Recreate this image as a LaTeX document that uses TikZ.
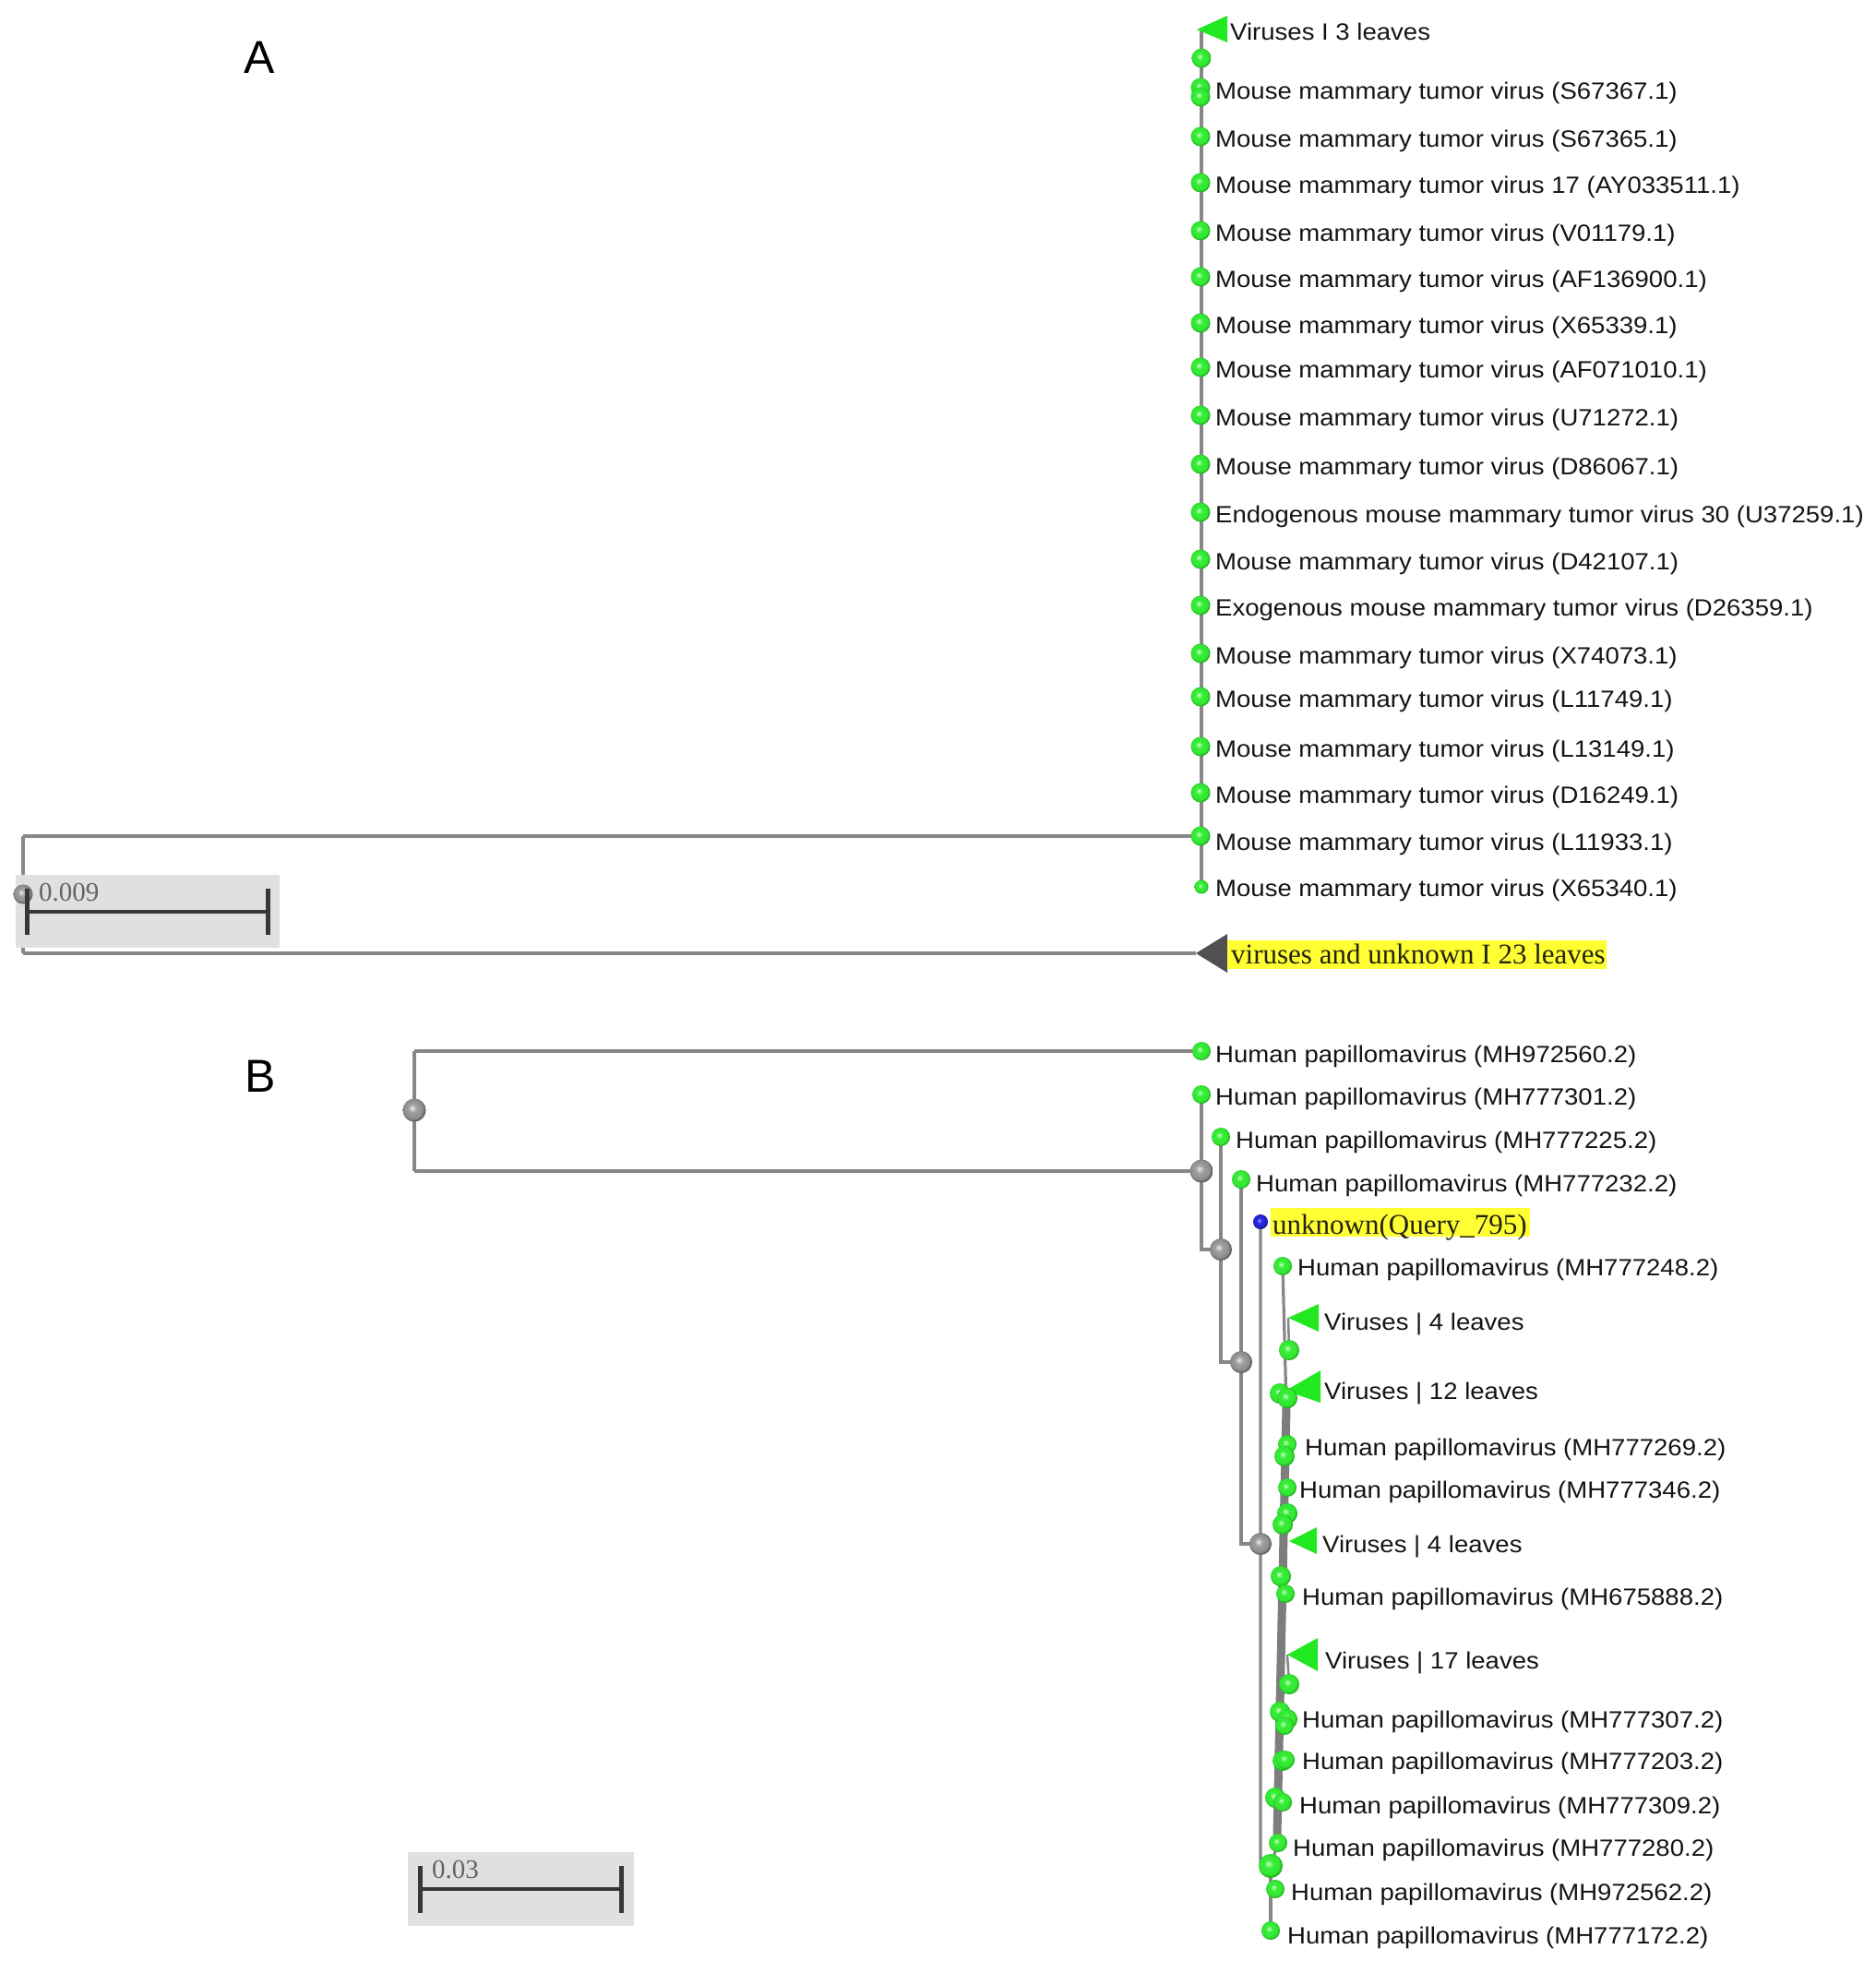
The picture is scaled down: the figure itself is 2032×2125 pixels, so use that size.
\documentclass[tikz,border=0pt]{standalone}
\usepackage{fontspec}
\newfontfamily\lblfont{Liberation Sans}[FakeStretch=1.08]
\newfontfamily\serfont{Liberation Serif}
\newfontfamily\bigfont{Liberation Sans}
\definecolor{txt}{RGB}{20,20,20}
\definecolor{sertxt}{RGB}{35,35,15}
\definecolor{lgray}{RGB}{135,135,135}
\definecolor{barc}{RGB}{125,125,125}
\definecolor{boxc}{RGB}{224,224,224}
\definecolor{scalec}{RGB}{55,55,55}
\definecolor{scaletxt}{RGB}{100,100,100}
\definecolor{hlyellow}{RGB}{255,255,51}
\definecolor{trig}{RGB}{34,232,34}
\definecolor{trid}{RGB}{80,80,80}
\definecolor{gtop}{RGB}{200,255,200}
\definecolor{gmid}{RGB}{55,238,55}
\definecolor{gedge}{RGB}{30,180,30}
\definecolor{ytop}{RGB}{235,235,235}
\definecolor{ymid}{RGB}{160,160,160}
\definecolor{yedge}{RGB}{95,95,95}
\definecolor{btop}{RGB}{160,160,255}
\definecolor{bmid}{RGB}{40,40,230}
\definecolor{bedge}{RGB}{20,20,130}
\pgfdeclareradialshading{gball}{\pgfpoint{-5bp}{5bp}}{color(0bp)=(gtop); color(9bp)=(gmid); color(21bp)=(gmid!85!gedge); color(25bp)=(gedge); color(50bp)=(gedge)}
\pgfdeclareradialshading{yball}{\pgfpoint{-5bp}{5bp}}{color(0bp)=(ytop); color(9bp)=(ymid); color(21bp)=(ymid!70!yedge); color(25bp)=(yedge); color(50bp)=(yedge)}
\pgfdeclareradialshading{bball}{\pgfpoint{-5bp}{5bp}}{color(0bp)=(btop); color(9bp)=(bmid); color(21bp)=(bmid!70!bedge); color(25bp)=(bedge); color(50bp)=(bedge)}
\tikzset{
  br/.style={draw=lgray, line width=3.2pt},
  thickbar/.style={draw=barc, line width=9pt},
  gsph/.style={circle, inner sep=0pt, minimum size=#1, shading=gball},
  gsph/.default=20pt,
  ysph/.style={circle, inner sep=0pt, minimum size=#1, shading=yball},
  ysph/.default=24pt,
  bsph/.style={circle, inner sep=0pt, minimum size=16pt, shading=bball},
  lbl/.style={anchor=base west, inner sep=0pt, text=txt, font=\lblfont\fontsize{25.5}{30}\selectfont},
  serlbl/.style={anchor=base west, inner sep=0pt, text=sertxt, font=\serfont\fontsize{31}{36}\selectfont},
  scalelbl/.style={anchor=base west, inner sep=0pt, text=scaletxt, font=\serfont\fontsize{29}{34}\selectfont},
  panel/.style={anchor=base, inner sep=0pt, text=black, font=\bigfont\fontsize{50}{60}\selectfont},
  tick/.style={draw=scalec, line width=5pt},
  sbar/.style={draw=scalec, line width=4pt},
}
\begin{document}
\begin{tikzpicture}[x=1pt,y=-1pt]
\useasboundingbox (0,0) rectangle (2032,2125);
\fill[white] (0,0) rectangle (2032,2125);

% ---------------- Panel A ----------------
\node[panel] (labA) at (281,80) {A};
\coordinate (rA) at (25,969);
\coordinate (aT) at (25,906);
\coordinate (aB) at (25,1033);
\coordinate (aJ) at (1302,906);
\coordinate (aTop) at (1302,32);
\coordinate (aEnd) at (1302,961);
\coordinate (aTriL) at (1296,1033);
\draw[br] (aT) -- (aB);
\draw[br] (aT) -- (aJ);
\draw[br] (aB) -- (aTriL);
\draw[br] (aTop) -- (aEnd);

% collapsed clades in A
\fill[trig] (1297,32) -- (1330,17) -- (1330,46) -- cycle;
\fill[trid] (1296,1033) -- (1330,1012) -- (1330,1054) -- cycle;

% scale bar A
\fill[boxc] (17,948) rectangle (303,1027);
\node[ysph=21pt] (rootA) at (rA) {};
\coordinate (sAl) at (29,988);
\coordinate (sAr) at (290,988);
\draw[sbar] (sAl) -- (sAr);
\draw[tick] (29,963) -- (29,1013);
\draw[tick] (290,963) -- (290,1013);
\node[scalelbl] (sAtxt) at (42,976) {0.009};

% leaves A
\node[gsph=21pt] (aS0) at (1302,63) {};
\node[gsph=21pt] (aS1) at (1301,95) {};
\node[gsph=21pt] (aS2) at (1301,105) {};
\foreach \yy [count=\i] in {148,198,250,300,350,398,450,503,555,606,656,708,755,809,859,906}
  \node[gsph=21pt] (aP\i) at (1301,\yy) {};
\node[gsph=15pt] (aPlast) at (1302,961) {};

\node[lbl] (aV3) at (1333,44) {Viruses I 3 leaves};
\foreach \t/\yy [count=\i] in {
  Mouse mammary tumor virus (S67367.1)/107,
  Mouse mammary tumor virus (S67365.1)/159,
  Mouse mammary tumor virus 17 (AY033511.1)/209,
  Mouse mammary tumor virus (V01179.1)/261,
  Mouse mammary tumor virus (AF136900.1)/311,
  Mouse mammary tumor virus (X65339.1)/361,
  Mouse mammary tumor virus (AF071010.1)/409,
  Mouse mammary tumor virus (U71272.1)/461,
  Mouse mammary tumor virus (D86067.1)/514,
  Endogenous mouse mammary tumor virus 30 (U37259.1)/566,
  Mouse mammary tumor virus (D42107.1)/617,
  Exogenous mouse mammary tumor virus (D26359.1)/667,
  Mouse mammary tumor virus (X74073.1)/719,
  Mouse mammary tumor virus (L11749.1)/766,
  Mouse mammary tumor virus (L13149.1)/820,
  Mouse mammary tumor virus (D16249.1)/870,
  Mouse mammary tumor virus (L11933.1)/921,
  Mouse mammary tumor virus (X65340.1)/971}
  \node[lbl] (aL\i) at (1317,\yy) {\t};

\fill[hlyellow] (1330,1019) rectangle (1741,1050);
\node[serlbl] (aVU) at (1334,1044) {viruses and unknown I 23 leaves};

% ---------------- Panel B ----------------
\node[panel] (labB) at (282,1183) {B};
\coordinate (rB) at (449,1203);
\coordinate (bT) at (449,1139);
\coordinate (bBt) at (449,1269);
\coordinate (l1) at (1302,1139);
\coordinate (n1) at (1302,1269);
\coordinate (l2) at (1302,1186);
\coordinate (n1d) at (1302,1354);
\coordinate (n2) at (1323,1354);
\coordinate (l3) at (1323,1232);
\coordinate (n2d) at (1323,1476);
\coordinate (n3) at (1345,1476);
\coordinate (l4) at (1345,1278);
\coordinate (n3d) at (1345,1673);
\coordinate (n4) at (1366,1673);
\coordinate (q) at (1366,1324);
\coordinate (n4d) at (1366,2018);
\coordinate (c0) at (1377,2022);
\coordinate (l19) at (1377,2092);
\coordinate (l6) at (1390,1372);
\coordinate (c1) at (1394,1525);
\coordinate (c2) at (1384,1988);
\coordinate (l17) at (1385,1997);
\coordinate (t1) at (1396,1428);
\coordinate (s1) at (1397,1463);
\coordinate (t4) at (1395,1793);
\coordinate (s4) at (1397,1825);

\draw[br] (bT) -- (bBt);
\draw[br] (bT) -- (l1);
\draw[br] (bBt) -- (n1);
\draw[br] (l2) -- (n1d) -- (n2);
\draw[br] (l3) -- (n2d) -- (n3);
\draw[br] (l4) -- (n3d) -- (n4);
\draw[br] (q) -- (n4d) -- (c0);
\draw[br] (c0) -- (l19);
\draw[br] (l6) -- (c1);
\draw[thickbar] (c1) -- (c2);
\draw[br] (c2) -- (l17) -- (c0);
\draw[br, line width=2.5pt] (t1) -- (s1);
\draw[br, line width=2.5pt] (t4) -- (s4);

% collapsed clades in B
\fill[trig] (1396,1428) -- (1429,1413) -- (1429,1443) -- cycle;
\fill[trig] (1393,1507) -- (1431,1485) -- (1431,1520) -- cycle;
\fill[trig] (1397,1670) -- (1427,1655) -- (1427,1684) -- cycle;
\fill[trig] (1395,1793) -- (1428,1775) -- (1428,1811) -- cycle;

% internal nodes
\node[ysph=25pt] (rootB) at (rB) {};
\node[ysph=25pt] (N1) at (n1) {};
\node[ysph] (N2) at (n2) {};
\node[ysph] (N3) at (n3) {};
\node[ysph] (N4) at (n4) {};

% leaf spheres
\node[gsph] (L1) at (l1) {};
\node[gsph] (L2) at (l2) {};
\node[gsph] (L3) at (l3) {};
\node[gsph] (L4) at (l4) {};
\node[bsph] (Q) at (q) {};
\node[gsph] (L6) at (l6) {};
\node[gsph=22pt] (S1) at (s1) {};
\foreach \xx/\yy/\ss [count=\i] in {1387/1510/22pt,1395/1515/22pt,1395/1565/20pt,1392/1578/22pt,
  1395/1612/20pt,1395/1640/22pt,1390/1652/22pt,1388/1708/22pt,1393/1727/20pt,
  1387/1855/22pt,1395/1863/22pt,1392/1870/20pt,1390/1908/22pt,1393/1907/20pt,
  1382/1948/22pt,1390/1953/20pt,1382/2047/20pt}
  \node[gsph=\ss] (G\i) at (\xx,\yy) {};
\node[gsph=22pt] (S4) at (s4) {};
\node[gsph] (L17) at (l17) {};
\node[gsph=26pt] (C0) at (c0) {};
\node[gsph] (L19) at (l19) {};

% labels B
\node[lbl] (bL1) at (1317,1151) {Human papillomavirus (MH972560.2)};
\node[lbl] (bL2) at (1317,1197) {Human papillomavirus (MH777301.2)};
\node[lbl] (bL3) at (1339,1244) {Human papillomavirus (MH777225.2)};
\node[lbl] (bL4) at (1361,1291) {Human papillomavirus (MH777232.2)};
\fill[hlyellow] (1377,1309) rectangle (1658,1340);
\node[serlbl] (bQ) at (1379,1337) {unknown(Query\_795)};
\node[lbl] (bL6) at (1406,1382) {Human papillomavirus (MH777248.2)};
\node[lbl] (bV1) at (1435,1441) {Viruses | 4 leaves};
\node[lbl] (bV2) at (1435,1516) {Viruses | 12 leaves};
\node[lbl] (bL9) at (1414,1577) {Human papillomavirus (MH777269.2)};
\node[lbl] (bL10) at (1408,1623) {Human papillomavirus (MH777346.2)};
\node[lbl] (bV3) at (1433,1682) {Viruses | 4 leaves};
\node[lbl] (bL12) at (1411,1739) {Human papillomavirus (MH675888.2)};
\node[lbl] (bV4) at (1436,1808) {Viruses | 17 leaves};
\node[lbl] (bL14) at (1411,1872) {Human papillomavirus (MH777307.2)};
\node[lbl] (bL15) at (1411,1917) {Human papillomavirus (MH777203.2)};
\node[lbl] (bL16) at (1408,1965) {Human papillomavirus (MH777309.2)};
\node[lbl] (bL17) at (1401,2011) {Human papillomavirus (MH777280.2)};
\node[lbl] (bL18) at (1399,2059) {Human papillomavirus (MH972562.2)};
\node[lbl] (bL19) at (1395,2106) {Human papillomavirus (MH777172.2)};

% scale bar B
\fill[boxc] (442,2007) rectangle (687,2087);
\coordinate (sBl) at (455,2047);
\coordinate (sBr) at (673,2047);
\draw[sbar] (sBl) -- (sBr);
\draw[tick] (455,2022) -- (455,2073);
\draw[tick] (673,2022) -- (673,2073);
\node[scalelbl] (sBtxt) at (468,2035) {0.03};
\end{tikzpicture}
\end{document}
